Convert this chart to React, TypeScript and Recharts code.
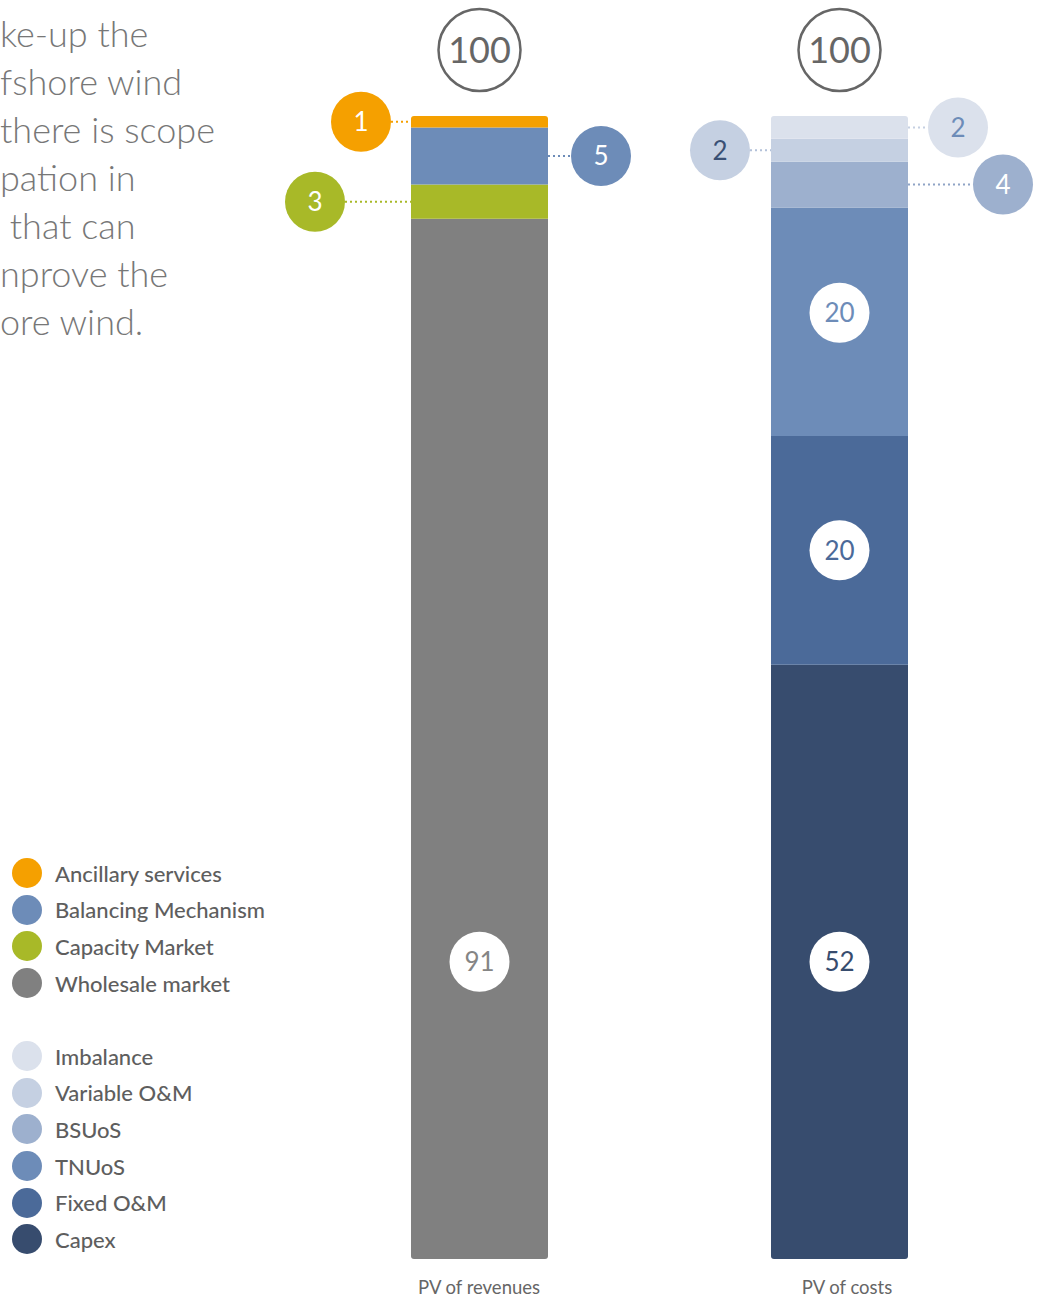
import React from "react";
import { Bar, BarChart, LabelList, XAxis, YAxis } from "recharts";

const categories = ["PV of revenues", "PV of costs"];

// revenue components (bottom to top)
const wholesale = [91, 0];
const capacity = [3, 0];
const balancing = [5, 0];
const ancillary = [1, 0];

// cost components (bottom to top)
const capex = [0, 52];
const fixedOM = [0, 20];
const tnuos = [0, 20];
const bsuos = [0, 4];
const variableOM = [0, 2];
const imbalance = [0, 2];

const paragraphLines = [
  "ke-up the",
  "fshore wind",
  "there is scope",
  "pation in",
  " that can",
  "nprove the",
  "ore wind.",
];

const FONT = "Lato, 'Open Sans', sans-serif";

type Place = {
  side: "left" | "right" | "center";
  dist?: number;
  fill: string;
  text: string;
  line?: string;
  dy?: number;
  atUnits?: number; // centre measured in units from the bar bottom
};

type Series = {
  key: string;
  name: string;
  values: number[];
  color: string;
  place: Place;
  radius?: [number, number, number, number];
};

const revenueSeries: Series[] = [
  { key: "wholesale", name: "Wholesale market", values: wholesale, color: "#808080",
    place: { side: "center", fill: "#ffffff", text: "#858585", atUnits: 26 }, radius: [0, 0, 3, 3] },
  { key: "capacity", name: "Capacity Market", values: capacity, color: "#a8b928",
    place: { side: "left", dist: 96, fill: "#a8b928", text: "#ffffff", line: "#a8b928" } },
  { key: "balancing", name: "Balancing Mechanism", values: balancing, color: "#6d8cb8",
    place: { side: "right", dist: 53, fill: "#6d8cb8", text: "#ffffff", line: "#6d8cb8" } },
  { key: "ancillary", name: "Ancillary services", values: ancillary, color: "#f5a000",
    place: { side: "left", dist: 50, fill: "#f5a000", text: "#ffffff", line: "#f5a000" }, radius: [3, 3, 0, 0] },
];

const costSeries: Series[] = [
  { key: "capex", name: "Capex", values: capex, color: "#374c6e",
    place: { side: "center", fill: "#ffffff", text: "#374c6e" }, radius: [0, 0, 3, 3] },
  { key: "fixedOM", name: "Fixed O&M", values: fixedOM, color: "#4b6a99",
    place: { side: "center", fill: "#ffffff", text: "#4b6a99" } },
  { key: "tnuos", name: "TNUoS", values: tnuos, color: "#6d8cb8",
    place: { side: "center", fill: "#ffffff", text: "#6d8cb8", dy: -9 } },
  { key: "bsuos", name: "BSUoS", values: bsuos, color: "#9db0ce",
    place: { side: "right", dist: 95, fill: "#9db0ce", text: "#ffffff", line: "#8fa4c6" } },
  { key: "variableOM", name: "Variable O&M", values: variableOM, color: "#c5d0e2",
    place: { side: "left", dist: 51, fill: "#c5d0e2", text: "#3a5075", line: "#b3c1d9" } },
  { key: "imbalance", name: "Imbalance", values: imbalance, color: "#dbe1ec",
    place: { side: "right", dist: 50, fill: "#dbe1ec", text: "#6d8cb8", line: "#c5d0e2" }, radius: [3, 3, 0, 0] },
];

const allSeries = [...revenueSeries, ...costSeries];
const topKeys = ["ancillary", "imbalance"];

const data = categories.map((name, i) => {
  const row: Record<string, any> = { name };
  allSeries.forEach((s) => (row[s.key] = s.values[i]));
  row.total = allSeries.reduce((sum, s) => sum + s.values[i], 0);
  return row;
});

function makeLabel(s: Series) {
  return (props: any) => {
    const vb = props.viewBox || props;
    const x = Number(vb.x ?? props.x);
    const y = Number(vb.y ?? props.y);
    const w = Number(vb.width ?? props.width);
    const h = Number(vb.height ?? props.height);
    const value = Number(props.value);
    if (!value || !isFinite(x) || !isFinite(y)) return null;
    const p = s.place;
    const r = 30;
    let cx = x + w / 2;
    let cy = y + h / 2 + (p.dy || 0);
    if (p.atUnits != null) cy = y + h - (p.atUnits * h) / value;
    let line = null;
    if (p.side === "left") {
      cx = x - (p.dist || 50);
      line = <line x1={cx + r} x2={x} y1={cy} y2={cy} stroke={p.line} strokeWidth={2} strokeDasharray="2 3" />;
    } else if (p.side === "right") {
      cx = x + w + (p.dist || 50);
      line = <line x1={x + w} x2={cx - r} y1={cy} y2={cy} stroke={p.line} strokeWidth={2} strokeDasharray="2 3" />;
    }
    return (
      <g>
        {line}
        <circle cx={cx} cy={cy} r={r} fill={p.fill} />
        <text x={cx} y={cy} dy="0.36em" textAnchor="middle" fill={p.text}
          style={{ fontFamily: FONT, fontSize: 26, fontWeight: 400 }}>
          {value}
        </text>
      </g>
    );
  };
}

function makeTotalLabel() {
  return (props: any) => {
    const vb = props.viewBox || props;
    const x = Number(vb.x ?? props.x);
    const y = Number(vb.y ?? props.y);
    const w = Number(vb.width ?? props.width);
    const idx = props.index;
    const own = Number(props.value);
    if (!own || !isFinite(x)) return null;
    const total = data[idx] ? data[idx].total : 0;
    const cx = x + w / 2;
    const cy = y - 66;
    return (
      <g>
        <circle cx={cx} cy={cy} r={41} fill="#ffffff" stroke="#666666" strokeWidth={2.5} />
        <text x={cx} y={cy} dy="0.36em" textAnchor="middle" fill="#666666"
          style={{ fontFamily: FONT, fontSize: 36, fontWeight: 400 }}>
          {total}
        </text>
      </g>
    );
  };
}

// the costs caption sits slightly right of its bar centre
const tickShift: Record<string, number> = { "PV of costs": 8 };

function CategoryTick({ x, y, payload }: any) {
  return (
    <text x={x + (tickShift[payload.value] || 0)} y={y + 27} textAnchor="middle" fill="#666666"
      style={{ fontFamily: FONT, fontSize: 18.5 }}>
      {payload.value}
    </text>
  );
}

function LegendList() {
  const groups = [revenueSeries.slice().reverse(), costSeries.slice().reverse()];
  return (
    <div style={{ position: "absolute", left: 0, top: 855, fontFamily: FONT }}>
      {groups.map((g, gi) => (
        <div key={gi} style={{ marginBottom: gi === 0 ? 36.6 : 0 }}>
          {g.map((s) => (
            <div key={s.key} style={{ display: "flex", alignItems: "center", height: 36.6 }}>
              <span style={{ width: 30, height: 30, borderRadius: 15, background: s.color, marginLeft: 12, marginRight: 13, flex: "none" }} />
              <span style={{ fontSize: 22, fontWeight: 500, color: "#5e5e5e", whiteSpace: "nowrap" }}>{s.name}</span>
            </div>
          ))}
        </div>
      ))}
    </div>
  );
}

export default function App() {
  return (
    <div style={{ position: "absolute", left: 0, top: 0, width: 1040, height: 1297, background: "#fff", overflow: "hidden" }}>
      <div style={{ position: "absolute", left: 0, top: 9, fontFamily: FONT, fontWeight: 300, fontSize: 36, lineHeight: "48px", color: "#777777", whiteSpace: "pre" }}>
        {paragraphLines.map((l, i) => (
          <div key={i}>{l}</div>
        ))}
      </div>
      <LegendList />
      <div style={{ position: "absolute", left: 0, top: 0 }}>
        <BarChart
          width={1040}
          height={1297}
          data={data}
          margin={{ top: 116, right: 21, bottom: 8, left: 299 }}
          barSize={137}
        >
          <XAxis dataKey="name" axisLine={false} tickLine={false} height={30} tick={<CategoryTick />} interval={0} />
          <YAxis hide width={0} domain={[0, 100]} />
          {allSeries.map((s) => (
            <Bar
              key={s.key}
              dataKey={s.key}
              name={s.name}
              stackId="a"
              fill={s.color}
              radius={s.radius || 0}
              isAnimationActive={false}
            >
              <LabelList dataKey={s.key} content={makeLabel(s)} />
              {topKeys.includes(s.key) && <LabelList dataKey={s.key} content={makeTotalLabel()} />}
            </Bar>
          ))}
        </BarChart>
      </div>
    </div>
  );
}
